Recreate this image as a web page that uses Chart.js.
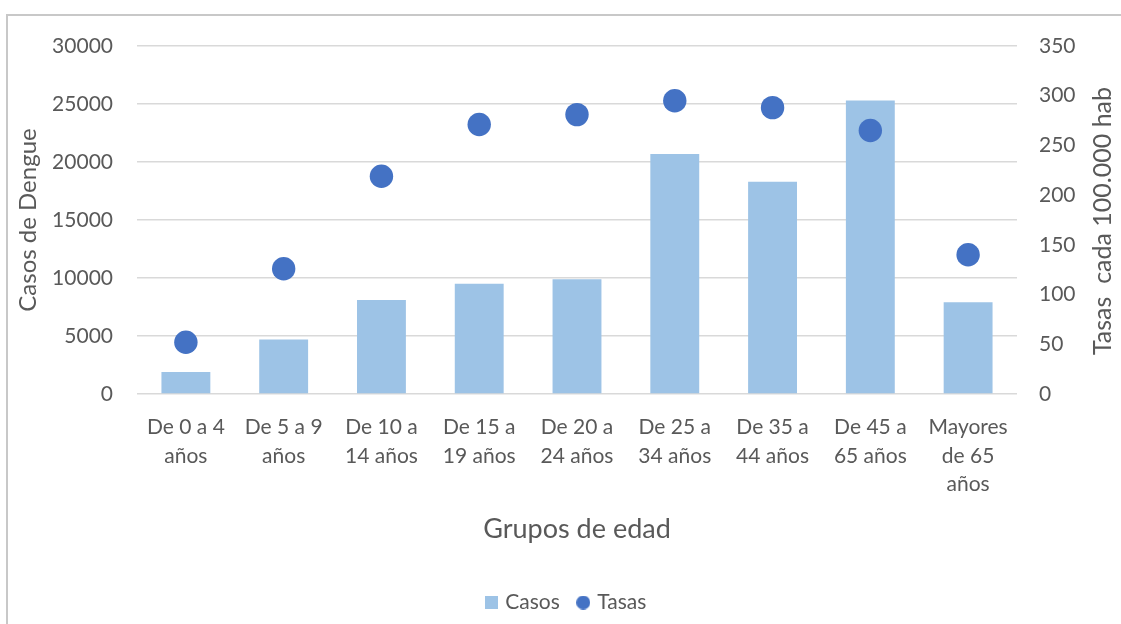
<!DOCTYPE html>
<html lang="es">
<head>
<meta charset="utf-8">
<title>Casos de Dengue y tasas por grupos de edad</title>
<script src="https://cdn.jsdelivr.net/npm/chart.js@4.4.1/dist/chart.umd.min.js"></script>
<style>
  html, body { margin: 0; padding: 0; background: #ffffff; }
  #wrap { position: relative; width: 1121px; height: 624px; overflow: hidden; }
  #frame {
    position: absolute; left: 6px; top: 14px; right: -4px; bottom: -4px;
    border-left: 2px solid #c8c8c8; border-top: 2px solid #c8c8c8;
    pointer-events: none;
  }
  canvas { position: absolute; left: 0; top: 0; }
</style>
</head>
<body>
<div id="wrap">
  <div id="frame"></div>
  <canvas id="chart" width="1121" height="624"></canvas>
</div>
<script>
// Age groups (each label split over lines as in the axis)
const categories = [
  ['De 0 a 4', 'años'],
  ['De 5 a 9', 'años'],
  ['De 10 a', '14 años'],
  ['De 15 a', '19 años'],
  ['De 20 a', '24 años'],
  ['De 25 a', '34 años'],
  ['De 35 a', '44 años'],
  ['De 45 a', '65 años'],
  ['Mayores', 'de 65', 'años']
];

// Dengue cases per age group
const casos = [1900, 4700, 8100, 9500, 9900, 20700, 18300, 25300, 7900];

// Rate per 100.000 inhabitants
const tasas = [52, 126, 219, 271, 281, 295, 288, 265, 140];

// Axis ranges and tick steps
const casosAxis = { min: 0, max: 30000, step: 5000 };
const tasasAxis = { min: 0, max: 350, step: 50 };

const seriesNames = ['Casos', 'Tasas'];
const axisTitles = {
  x: 'Grupos de edad',
  y: 'Casos de Dengue',
  y1: 'Tasas  cada 100.000 hab'
};

const FONT = 'Lato, "Open Sans", "Noto Sans", sans-serif';
const TEXT = '#595959';
const BAR_COLOR = '#9dc3e6';
const DOT_COLOR = '#4472c4';
const GRID = '#d9d9d9';

// Small legend swatches: a square for the bars, a disc for the points
function swatch(kind, size, color) {
  const c = document.createElement('canvas');
  c.width = size; c.height = size;
  const g = c.getContext('2d');
  g.fillStyle = color;
  if (kind === 'square') {
    g.fillRect(0, 0, size, size);
  } else {
    g.beginPath();
    g.arc(size / 2, size / 2, size / 2, 0, Math.PI * 2);
    g.fill();
  }
  return c;
}
const legendIcons = [swatch('square', 13, BAR_COLOR), swatch('disc', 14, DOT_COLOR)];

// Right-hand axis title, read bottom-to-top like the left one
const rightTitlePlugin = {
  id: 'rightTitle',
  afterDraw(chart) {
    const s = chart.scales.y1;
    const ctx = chart.ctx;
    ctx.save();
    ctx.translate(s.right - 18, (s.top + s.bottom) / 2 + 1);
    ctx.rotate(-Math.PI / 2);
    ctx.font = '25px ' + FONT;
    ctx.fillStyle = TEXT;
    ctx.textAlign = 'center';
    ctx.textBaseline = 'middle';
    ctx.fillText(axisTitles.y1, 0, 0);
    ctx.restore();
  }
};

new Chart(document.getElementById('chart'), {
  data: {
    labels: categories,
    datasets: [
      {
        type: 'bar',
        label: seriesNames[0],
        data: casos,
        yAxisID: 'y',
        backgroundColor: BAR_COLOR,
        borderWidth: 0,
        categoryPercentage: 0.5,
        barPercentage: 1,
        order: 1
      },
      {
        type: 'line',
        label: seriesNames[1],
        data: tasas,
        yAxisID: 'y1',
        showLine: false,
        pointRadius: 11.7,
        pointHoverRadius: 11.7,
        pointBorderWidth: 0,
        pointBackgroundColor: DOT_COLOR,
        borderColor: DOT_COLOR,
        backgroundColor: DOT_COLOR,
        order: 0
      }
    ]
  },
  options: {
    responsive: false,
    animation: false,
    layout: { padding: { left: 13, right: 0, top: 46, bottom: 1 } },
    plugins: {
      tooltip: { enabled: false },
      legend: {
        position: 'bottom',
        labels: {
          usePointStyle: true,
          pointStyleWidth: 7,
          padding: 20,
          color: TEXT,
          font: { family: FONT, size: 21 },
          sort: (a, b) => a.datasetIndex - b.datasetIndex,
          generateLabels(chart) {
            const items = Chart.defaults.plugins.legend.labels.generateLabels(chart);
            items.forEach(it => { it.pointStyle = legendIcons[it.datasetIndex]; });
            return items;
          }
        }
      }
    },
    scales: {
      x: {
        offset: true,
        grid: { display: false, drawTicks: false },
        border: { display: false },
        ticks: {
          color: TEXT,
          font: { family: FONT, size: 21, lineHeight: 1.357 },
          padding: 19,
          maxRotation: 0,
          autoSkip: false
        },
        title: {
          display: true,
          text: axisTitles.x,
          color: TEXT,
          font: { family: FONT, size: 27 },
          padding: { top: 0, bottom: 27 }
        },
        afterFit(s) { s.height = 178; }
      },
      y: {
        position: 'left',
        min: casosAxis.min,
        max: casosAxis.max,
        grid: { color: GRID, lineWidth: 1.5, drawTicks: false },
        border: { display: false },
        ticks: {
          stepSize: casosAxis.step,
          color: TEXT,
          font: { family: FONT, size: 21 },
          padding: 24,
          format: { useGrouping: false }
        },
        title: {
          display: true,
          text: axisTitles.y,
          color: TEXT,
          font: { family: FONT, size: 24 },
          padding: { top: 0.6, bottom: 0 }
        },
        afterFit(s) { s.width = 124; }
      },
      y1: {
        position: 'right',
        min: tasasAxis.min,
        max: tasasAxis.max,
        grid: { display: false, drawTicks: false },
        border: { display: false },
        ticks: {
          stepSize: tasasAxis.step,
          color: TEXT,
          font: { family: FONT, size: 21 },
          padding: 22
        },
        afterFit(s) { s.width = 104; }
      }
    }
  },
  plugins: [rightTitlePlugin]
});
</script>
</body>
</html>
